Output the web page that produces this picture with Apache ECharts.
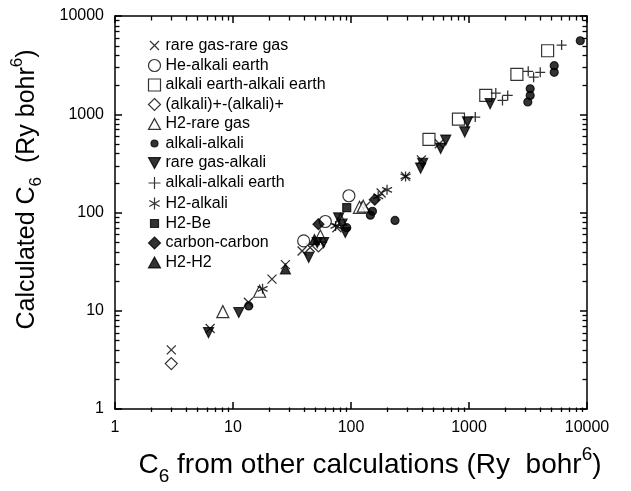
<!DOCTYPE html>
<html><head><meta charset="utf-8">
<script src="https://cdn.jsdelivr.net/npm/echarts@6/dist/echarts.min.js"></script>
<style>html,body{margin:0;padding:0;background:#fff}#c{width:631px;height:491px}</style>
</head><body><div id="c"></div>
<script>
// ---- data (x = C6 from other calculations, y = calculated C6) ----
const rareGasRareGas = [[3,4],[6.4,6.6],[13.5,12.2],[21.4,21],[27.8,29.5],[38.5,40.6],[45,44],[76,70],[133,116],[180,158],[290,233],[395,343],[560,500]];
const heAlkaliEarth = [[39.7,51.4],[60.6,81],[96,148]];
const alkEarthAlkEarth = [[458,555],[814,890],[1387,1556],[2546,2550],[4637,4430]];
const alkaliIons = [[3,2.9],[53,45.7]];
const h2RareGas = [[8.2,9.8],[16.8,15.8],[55,57.6],[81.5,85],[118,113],[127,116]];
const alkaliAlkali = [[13.6,11.2],[92,70],[146,94],[152,103],[236,83],[3150,1332],[3300,1556],[3300,1817],[5275,2673],[5275,3125],[8770,5600]];
const rareGasAlkali = [[6.2,6.0],[11.2,9.6],[43.8,34.9],[51.7,49.4],[58.6,49.4],[78.6,88],[84,76],[89.5,62.6],[389,283],[405,317],[575,450],[635,546],[920,663],[970,836],[1510,1282]];
const alkaliAlkEarth = [[1130,935],[1687,1641],[1922,1384],[2128,1556],[3176,2737],[3527,2383],[4015,2673],[6095,5056]];
const h2Alkali = [[17.8,16.7],[74,73],[170,146],[202,170],[290,233]];
const h2Be = [[92,112]];
const carbonCarbon = [[53,76],[159,135]];
const h2H2 = [[27.8,26.6],[49,53]];

const seriesNames = ['rare gas-rare gas','He-alkali earth','alkali earth-alkali earth','(alkali)+-(alkali)+','H2-rare gas','alkali-alkali','rare gas-alkali','alkali-alkali earth','H2-alkali','H2-Be','carbon-carbon','H2-H2'];
const axisMin = 1, axisMax = 10000;
const minorTicks = [2,3,4,5,6,7,8,9,20,30,40,50,60,70,80,90,200,300,400,500,600,700,800,900,2000,3000,4000,5000,6000,7000,8000,9000];

const CROSS = 'path://M0,0L10,10M10,0L0,10';
const PLUS = 'path://M5,0L5,10M0,5L10,5';
const STAR = 'path://M5,0L5,10M0.67,2.5L9.33,7.5M9.33,2.5L0.67,7.5';
const DOWN = 'path://M0,0L10,0L5,9Z';
const UP = 'path://M5,0L10,9L0,9Z';
const LEG_DOT = 'path://M0,0M12,12M6,2.5A3.5,3.5,0,1,1,5.99,2.5Z';
const LEG_SQ = 'path://M0,0M12,12M2,2L10,2L10,10L2,10Z';
const LEG_CROSS = 'path://M0,0M12,12M1.5,1.5L10.5,10.5M10.5,1.5L1.5,10.5';

function sc(name, data, symbol, size, filled, stroke) {
  return {
    type: 'scatter', name: name, data: data, symbol: symbol, symbolSize: size,
    itemStyle: { color: filled ? '#000' : (stroke ? 'none' : '#fff'), borderColor: '#000', borderWidth: stroke ? 1.3 : 1.2 },
    emphasis: { disabled: true }, z: 3
  };
}

const FONT = "'Liberation Sans',Arial,sans-serif";
function nameRich(fs) {
  return {
    n: { fontSize: fs, lineHeight: Math.round(fs * 1.45), fontFamily: FONT, color: '#000' },
    sub: { fontSize: Math.round(fs * 0.68), lineHeight: Math.round(fs * 0.68), verticalAlign: 'bottom', fontFamily: FONT, color: '#000' },
    sup: { fontSize: Math.round(fs * 0.68), lineHeight: Math.round(fs * 0.68), verticalAlign: 'top', fontFamily: FONT, color: '#000' }
  };
}

function mainAxis(position, showLabel) {
  return {
    type: 'log', logBase: 10, min: axisMin, max: axisMax, position: position,
    axisLine: { show: true, onZero: false, lineStyle: { color: '#000', width: 1.5 } },
    axisTick: { show: true, inside: true, length: 7, lineStyle: { color: '#000', width: 1.5 } },
    axisLabel: { show: showLabel, color: '#000', fontSize: 16, fontFamily: FONT, margin: 11,
      formatter: function (v) { return String(Math.round(v)); } },
    splitLine: { show: false }
  };
}

const GRID = { left: 115, right: 44, top: 16, bottom: 79 };
const legendIcons = { 'rare gas-rare gas': LEG_CROSS, 'alkali-alkali': LEG_DOT, 'H2-Be': LEG_SQ };

const chart = echarts.init(document.getElementById('c'), null, { renderer: 'canvas' });
const option = {
  backgroundColor: '#fff',
  animation: false,
  grid: GRID,
  legend: {
    data: seriesNames.map(n => legendIcons[n] ? { name: n, icon: legendIcons[n] } : n),
    orient: 'vertical', left: 146, top: 37, padding: 0,
    itemWidth: 12, itemHeight: 12, itemGap: 3.5,
    textStyle: { color: '#000', fontSize: 16, fontFamily: FONT },
    selectedMode: false,
    itemStyle: { borderWidth: 1.2 }
  },
  xAxis: [
    Object.assign(mainAxis('bottom', true), {
      name: '{n|C}{sub|6}{n| from other calculations (Ry  bohr}{sup|6}{n|)}',
      nameLocation: 'middle', nameGap: 36,
      nameTextStyle: { rich: nameRich(28), padding: [0, 0, 0, 38] } }),
    mainAxis('top', false)
  ],
  yAxis: [
    Object.assign(mainAxis('left', true), {
      name: '{n|Calculated C}{sub|6}{n|  (Ry bohr}{sup|6}{n|)}',
      nameLocation: 'middle', nameGap: 70, nameRotate: 90,
      nameTextStyle: { rich: nameRich(25), padding: [0, 0, 0, 46] } }),
    mainAxis('right', false)
  ],
  series: [
    sc(seriesNames[0], rareGasRareGas, CROSS, 9, false, true),
    sc(seriesNames[1], heAlkaliEarth, 'circle', 12, false, false),
    sc(seriesNames[2], alkEarthAlkEarth, 'rect', 12, false, false),
    sc(seriesNames[3], alkaliIons, 'diamond', 12, false, false),
    sc(seriesNames[4], h2RareGas, UP, 12, false, false),
    sc(seriesNames[5], alkaliAlkali, 'circle', 8, true, false),
    sc(seriesNames[6], rareGasAlkali, DOWN, 10, true, false),
    sc(seriesNames[7], alkaliAlkEarth, PLUS, 10, false, true),
    sc(seriesNames[8], h2Alkali, STAR, 10, false, true),
    sc(seriesNames[9], h2Be, 'rect', 8, true, false),
    sc(seriesNames[10], carbonCarbon, 'diamond', 11, true, false),
    sc(seriesNames[11], h2H2, UP, 10, true, false)
  ]
};
chart.setOption(option);

// minor frame ticks (inward, all four sides); positions from the axes' scale
const MINOR_LEN = 4.5;
const W = chart.getWidth(), H = chart.getHeight();
const xL = GRID.left, xR = W - GRID.right, yT = GRID.top, yB = H - GRID.bottom;
const lgMin = Math.log10(axisMin), lgMax = Math.log10(axisMax);
function px(v) {
  let p = chart.convertToPixel({ xAxisIndex: 0 }, v);
  if (!isFinite(p) || p < xL - 1 || p > xR + 1) p = xL + (Math.log10(v) - lgMin) / (lgMax - lgMin) * (xR - xL);
  return p;
}
function py(v) {
  let p = chart.convertToPixel({ yAxisIndex: 0 }, v);
  if (!isFinite(p) || p < yT - 1 || p > yB + 1) p = yB - (Math.log10(v) - lgMin) / (lgMax - lgMin) * (yB - yT);
  return p;
}
const tickEls = [];
const tickStyle = { stroke: '#000', lineWidth: 1.3 };
minorTicks.forEach(function (v) {
  const X = Math.round(px(v)) + 0.5, Y = Math.round(py(v)) + 0.5;
  tickEls.push({ type: 'line', silent: true, z: 100, shape: { x1: X, y1: yB, x2: X, y2: yB - MINOR_LEN }, style: tickStyle });
  tickEls.push({ type: 'line', silent: true, z: 100, shape: { x1: X, y1: yT, x2: X, y2: yT + MINOR_LEN }, style: tickStyle });
  tickEls.push({ type: 'line', silent: true, z: 100, shape: { x1: xL, y1: Y, x2: xL + MINOR_LEN, y2: Y }, style: tickStyle });
  tickEls.push({ type: 'line', silent: true, z: 100, shape: { x1: xR, y1: Y, x2: xR - MINOR_LEN, y2: Y }, style: tickStyle });
});
chart.setOption({ graphic: tickEls });
</script></body></html>
